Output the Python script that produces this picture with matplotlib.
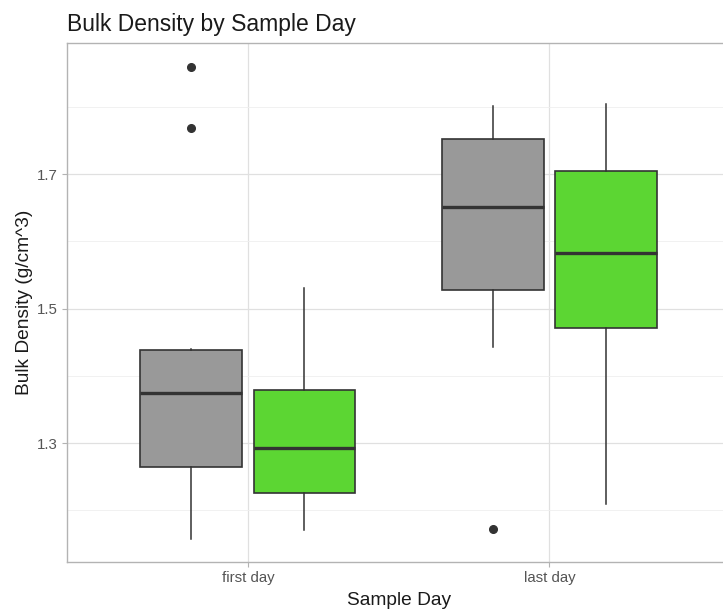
import numpy as np
import matplotlib
matplotlib.use('agg')
import matplotlib.pyplot as plt

plt.rcParams['font.family'] = ['Liberation Sans', 'DejaVu Sans']

# box statistics
days = ['first day', 'last day']
grey_stats = {
    'whislo': [1.157, 1.443],
    'q1':     [1.264, 1.527],
    'med':    [1.374, 1.651],
    'q3':     [1.438, 1.752],
    'whishi': [1.440, 1.801],
    'fliers': [[1.860, 1.768], [1.172]],
}
green_stats = {
    'whislo': [1.170, 1.210],
    'q1':     [1.225, 1.471],
    'med':    [1.292, 1.582],
    'q3':     [1.379, 1.704],
    'whishi': [1.531, 1.805],
    'fliers': [[], []],
}
yticks = [1.3, 1.5, 1.7]
minor_yticks = [1.2, 1.4, 1.6, 1.8]


def to_bxp(st):
    out = []
    for i in range(len(st['med'])):
        out.append({k: st[k][i] for k in ['whislo', 'q1', 'med', 'q3', 'whishi', 'fliers']})
    return out


fig = plt.figure(figsize=(7.23, 6.13), dpi=100)
ax = fig.add_axes([67 / 723, 1 - 562 / 613, (723 - 67) / 723 + 0.01, (562 - 43) / 613])

x = np.arange(len(days))
offset = 0.1875
width = 0.3375
edge = '#333333'
for stats, color, dx in [(grey_stats, '#999999', -offset), (green_stats, '#5CD633', offset)]:
    ax.bxp(to_bxp(stats), positions=x + dx, widths=width, patch_artist=True,
           showcaps=False,
           boxprops=dict(facecolor=color, edgecolor=edge, linewidth=1.2),
           whiskerprops=dict(color=edge, linewidth=1.1),
           medianprops=dict(color=edge, linewidth=2.4, solid_capstyle='butt'),
           flierprops=dict(marker='o', markerfacecolor=edge, markeredgecolor=edge,
                           markersize=5.5, linestyle='none'),
           zorder=3)

ax.set_xlim(-0.6, 1.6)
ax.set_ylim(1.123, 1.895)
ax.set_xticks(x)
ax.set_xticklabels(days)
ax.set_yticks(yticks)
ax.set_yticklabels([f'{v:.1f}' for v in yticks])
ax.set_yticks(minor_yticks, minor=True)

ax.grid(True, which='major', color='#E0E0E0', linewidth=0.9, zorder=0)
ax.grid(True, which='minor', axis='y', color='#EFEFEF', linewidth=0.6, zorder=0)
ax.set_axisbelow(True)
for s in ax.spines.values():
    s.set_color('#B3B3B3')
    s.set_linewidth(1.0)

ax.tick_params(axis='both', which='major', colors='#B3B3B3', labelcolor='#555555',
               labelsize=10.8, length=3.5, width=0.8, pad=3)
ax.tick_params(axis='y', which='minor', length=0)

ax.set_xlabel('Sample Day', fontsize=13.8, color='#1A1A1A', labelpad=5)
ax.set_ylabel('Bulk Density (g/cm^3)', fontsize=13.8, color='#1A1A1A', labelpad=3)
ax.set_title('Bulk Density by Sample Day', fontsize=16.5, color='#1A1A1A', loc='left',
             x=0.0, pad=9)

fig.savefig('out.png', dpi=100)
